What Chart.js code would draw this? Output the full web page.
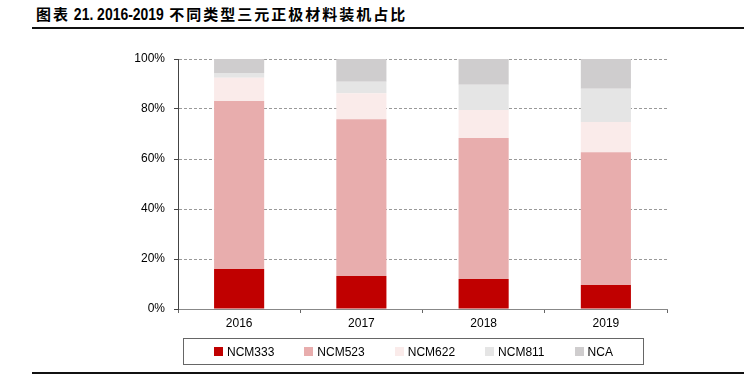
<!DOCTYPE html>
<html>
<head>
<meta charset="utf-8">
<script src="https://cdn.jsdelivr.net/npm/chart.js@4/dist/chart.umd.min.js"></script>
<style>
  html, body { margin: 0; padding: 0; background: #fff; }
  #wrap { position: relative; width: 744px; height: 380px; overflow: hidden; background: #fff; }
  #c { position: absolute; left: 0; top: 0; }
  #title { position: absolute; left: 36px; top: 1px; height: 26px; line-height: 26px; white-space: nowrap; color: #000; font-weight: bold; }
  #title .cj { font-family: "Noto Sans CJK SC", sans-serif; font-size: 15px; letter-spacing: 2px; }
  #title .la { display: inline-block; font-family: "Liberation Sans", Arial, sans-serif; font-size: 17px; transform: scaleX(0.82); transform-origin: left center; margin-right: -20px; }
  .rule { position: absolute; left: 32px; right: 0; height: 2px; background: #111; }
  #legend { position: absolute; left: 183px; top: 338px; width: 461px; height: 27px; box-sizing: border-box; border: 1px solid #666;
            display: flex; align-items: center; padding-left: 30px; font-family: "Liberation Sans", Arial, sans-serif; font-size: 12px; color: #000; }
  #legend .it { display: flex; align-items: center; margin-right: 30px; }
  #legend .sw { width: 9px; height: 9px; margin-right: 4px; }
</style>
</head>
<body>
<div id="wrap">
  <div id="title"><span class="cj">图表</span><span class="la">&nbsp;21. 2016-2019&nbsp;</span><span class="cj">不同类型三元正极材料装机占比</span></div>
  <div class="rule" style="top:27px"></div>
  <canvas id="c" width="744" height="380"></canvas>
  <div id="legend"></div>
  <div class="rule" style="top:372px"></div>
</div>
<script>
const categories = ["2016", "2017", "2018", "2019"];
const seriesNames = ["NCM333", "NCM523", "NCM622", "NCM811", "NCA"];
const ncm333 = [16.0, 13.2, 12.0, 9.6];
const ncm523 = [67.2, 62.7, 56.4, 53.1];
const ncm622 = [9.3, 10.4, 11.2, 12.1];
const ncm811 = [1.9, 4.6, 10.1, 13.3];
const nca    = [5.6, 9.1, 10.3, 11.9];
const yTicks = [0, 20, 40, 60, 80, 100];

const seriesValues = [ncm333, ncm523, ncm622, ncm811, nca];
const colors = ["#C00000", "#E8ADAD", "#FAEBEA", "#E5E5E5", "#CFCDCE"];

const datasets = seriesNames.map((name, i) => ({
  label: name,
  data: seriesValues[i],
  backgroundColor: colors[i],
  borderWidth: 0,
  categoryPercentage: 1,
  barPercentage: 0.41
}));

const lg = document.getElementById('legend');
seriesNames.forEach((n, i) => {
  const it = document.createElement('div'); it.className = 'it';
  const sw = document.createElement('span'); sw.className = 'sw'; sw.style.background = colors[i];
  const tx = document.createElement('span'); tx.textContent = n;
  it.appendChild(sw); it.appendChild(tx); lg.appendChild(it);
});

const tickFont = { family: "'Liberation Sans', Arial, sans-serif", size: 12 };

new Chart(document.getElementById('c'), {
  type: 'bar',
  data: { labels: categories, datasets },
  options: {
    responsive: false,
    animation: false,
    devicePixelRatio: 1,
    layout: { padding: { left: 0, right: 77, top: 59, bottom: 0 } },
    plugins: { legend: { display: false }, title: { display: false }, tooltip: { enabled: false } },
    scales: {
      x: {
        stacked: true,
        offset: true,
        grid: { display: true, drawOnChartArea: false, drawTicks: true, tickLength: 4, offset: true, color: '#888', tickColor: '#666' },
        border: { display: true, color: '#888', width: 1 },
        ticks: { font: tickFont, color: '#000', padding: 3 },
        afterFit: s => { s.height = 71; }
      },
      y: {
        stacked: true,
        min: 0, max: 100,
        afterBuildTicks: s => { s.ticks = yTicks.map(v => ({ value: v })); },
        grid: { color: '#999', tickColor: '#444', tickLength: 4, drawTicks: true },
        border: { display: true, color: '#444', width: 1, dash: [3, 2] },
        ticks: { font: tickFont, color: '#000', padding: 9, callback: v => v + '%' },
        afterFit: s => { s.width = 178; }
      }
    }
  }
});
</script>
</body>
</html>
